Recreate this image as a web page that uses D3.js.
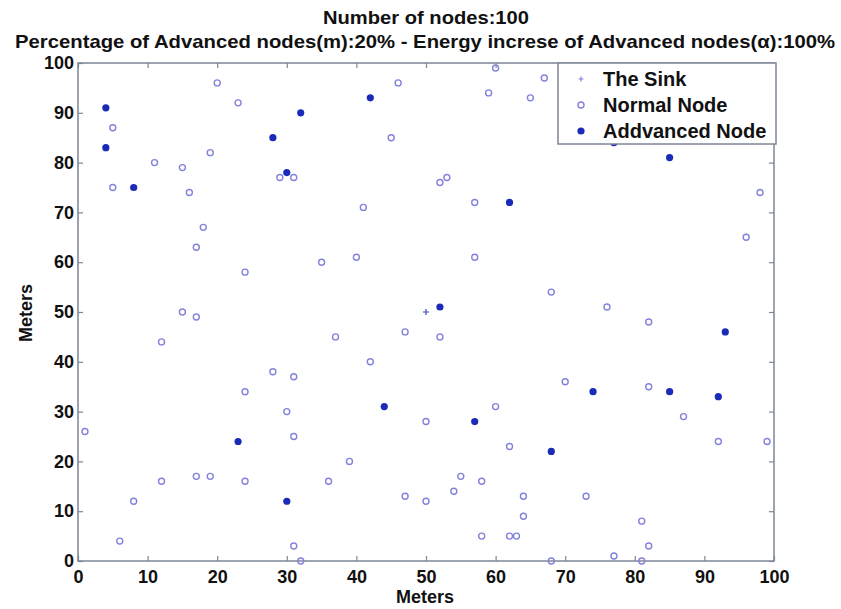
<!DOCTYPE html>
<html>
<head>
<meta charset="utf-8">
<script src="https://cdn.jsdelivr.net/npm/d3@7"></script>
<style>
  body { margin: 0; background: #fff; }
  svg text { font-family: "Liberation Sans", Arial, sans-serif; font-weight: bold; }
</style>
</head>
<body>
<svg width="841" height="609"></svg>
<script>
// node positions in meters
const normalX = [20,23,5,19,11,15,29,31,5,16,18,
  46,59,60,65,45,52,53,41,57,
  67,98,96,
  17,24,15,17,12,28,31,24,
  35,40,57,37,47,52,42,60,
  68,76,82,70,82,
  30,1,31,17,19,12,24,8,6,31,32,
  50,62,39,36,55,58,54,47,50,64,64,58,62,63,
  87,92,99,73,81,82,77,68,81];
const normalY = [96,92,87,82,80,79,77,77,75,74,67,
  96,94,99,93,85,76,77,71,72,
  97,74,65,
  63,58,50,49,44,38,37,34,
  60,61,61,45,46,45,40,31,
  54,51,48,36,35,
  30,26,25,17,17,16,16,12,4,3,0,
  28,23,20,16,17,16,14,13,12,13,9,5,5,5,
  29,24,24,13,8,3,1,0,0];
const advX = [4,4,8,28,30,32,42,52,62,85,93,23,30,44,57,68,74,85,92,77];
const advY = [91,83,75,85,78,90,93,51,72,81,46,24,12,31,28,22,34,34,33,84];
const sinkX = [50];
const sinkY = [50];
const ticks = [0,10,20,30,40,50,60,70,80,90,100];
const legendLabels = ["The Sink", "Normal Node", "Addvanced Node"];

const svg = d3.select("svg");
const mLeft = 78, mRight = 774, mTop = 63, mBottom = 561;
const axisColor = "#7d8796";
const normalColor = "#8282dc";
const advColor = "#1b2bb8";

const x = d3.scaleLinear().domain([0, 100]).range([mLeft, mRight]);
const y = d3.scaleLinear().domain([0, 100]).range([mBottom, mTop]);

// box
svg.append("rect")
    .attr("x", mLeft).attr("y", mTop)
    .attr("width", mRight - mLeft).attr("height", mBottom - mTop)
    .attr("fill", "none").attr("stroke", axisColor).attr("stroke-width", 1.5);

// ticks pointing inward, on all four sides
function styleAxis(g) {
    g.select(".domain").remove();
    g.selectAll(".tick line").attr("stroke", axisColor).attr("stroke-width", 1.2);
    g.selectAll(".tick text").attr("fill", "#111").attr("font-size", 18);
}
svg.append("g").attr("transform", `translate(0,${mBottom})`)
    .call(d3.axisBottom(x).tickValues(ticks).tickSizeInner(-5).tickPadding(9))
    .call(styleAxis);
svg.append("g").attr("transform", `translate(0,${mTop})`)
    .call(d3.axisTop(x).tickValues(ticks).tickSizeInner(-5).tickFormat(""))
    .call(styleAxis);
svg.append("g").attr("transform", `translate(${mLeft},0)`)
    .call(d3.axisLeft(y).tickValues(ticks).tickSizeInner(-5).tickPadding(4))
    .call(styleAxis);
svg.append("g").attr("transform", `translate(${mRight},0)`)
    .call(d3.axisRight(y).tickValues(ticks).tickSizeInner(-5).tickFormat(""))
    .call(styleAxis);

// nodes
const normal = normalX.map((v, i) => ({x: v, y: normalY[i]}));
const adv = advX.map((v, i) => ({x: v, y: advY[i]}));
const sink = sinkX.map((v, i) => ({x: v, y: sinkY[i]}));

svg.append("g").selectAll("circle")
    .data(normal)
    .enter().append("circle")
    .attr("cx", d => x(d.x)).attr("cy", d => y(d.y))
    .attr("r", 3)
    .attr("fill", "none")
    .attr("stroke", normalColor)
    .attr("stroke-width", 1.4);

svg.append("g").selectAll("circle")
    .data(adv)
    .enter().append("circle")
    .attr("cx", d => x(d.x)).attr("cy", d => y(d.y))
    .attr("r", 3.6)
    .attr("fill", advColor);

svg.append("g").selectAll("path")
    .data(sink)
    .enter().append("path")
    .attr("d", d => `M${x(d.x) - 3},${y(d.y)}h6M${x(d.x)},${y(d.y) - 3}v6`)
    .attr("stroke", "#3a48c0")
    .attr("stroke-width", 1.2);

// legend
const lg = svg.append("g");
lg.append("rect")
    .attr("x", 558).attr("y", mTop)
    .attr("width", mRight - 558 + 2).attr("height", 81)
    .attr("fill", "#fff").attr("stroke", axisColor).attr("stroke-width", 1.5);
const rows = [79, 105, 131];
lg.append("path")
    .attr("d", `M${581 - 2.5},${rows[0]}h5M581,${rows[0] - 2.5}v5`)
    .attr("stroke", normalColor).attr("stroke-width", 1.2);
lg.append("circle").attr("cx", 581).attr("cy", rows[1])
    .attr("r", 3).attr("fill", "none").attr("stroke", normalColor).attr("stroke-width", 1.4);
lg.append("circle").attr("cx", 581).attr("cy", rows[2])
    .attr("r", 3.6).attr("fill", advColor);
lg.selectAll("text")
    .data(legendLabels)
    .enter().append("text")
    .attr("x", 603)
    .attr("y", (d, i) => rows[i])
    .attr("dy", "0.36em")
    .attr("font-size", 20)
    .attr("fill", "#111")
    .text(d => d);

// titles
svg.append("text")
    .attr("x", 426).attr("y", 24)
    .attr("text-anchor", "middle")
    .attr("font-size", 18.5)
    .attr("fill", "#111")
    .attr("textLength", 206)
    .attr("lengthAdjust", "spacingAndGlyphs")
    .text("Number of nodes:100");
svg.append("text")
    .attr("x", 425).attr("y", 48)
    .attr("text-anchor", "middle")
    .attr("font-size", 18.5)
    .attr("fill", "#111")
    .attr("textLength", 820)
    .attr("lengthAdjust", "spacingAndGlyphs")
    .text("Percentage of Advanced nodes(m):20% - Energy increse of Advanced nodes(α):100%");

// axis labels
svg.append("text")
    .attr("x", 425).attr("y", 603)
    .attr("text-anchor", "middle")
    .attr("font-size", 18)
    .attr("fill", "#111")
    .text("Meters");
svg.append("text")
    .attr("transform", "translate(32,313) rotate(-90)")
    .attr("text-anchor", "middle")
    .attr("font-size", 18)
    .attr("fill", "#111")
    .text("Meters");
</script>
</body>
</html>
